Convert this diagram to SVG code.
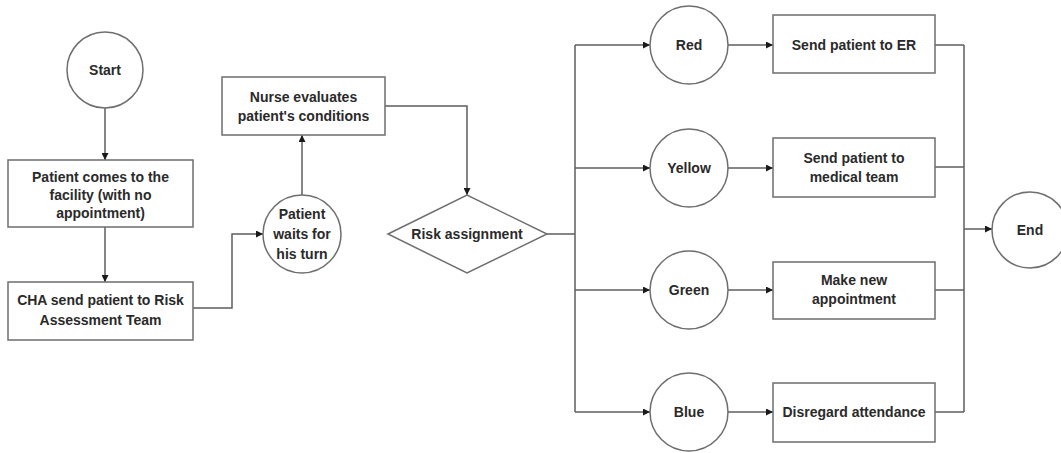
<svg xmlns="http://www.w3.org/2000/svg" width="1061" height="453" viewBox="0 0 1061 453">
  <style>
    .shape { fill: #ffffff; stroke: #6e6e6e; stroke-width: 1.5; }
    .edge { fill: none; stroke: #5e5e5e; stroke-width: 1.5; }
    .arrow { marker-end: url(#head); }
    text { font-family: "Liberation Sans", Arial, sans-serif; font-size: 14px; font-weight: bold; fill: #2a2a2a; text-anchor: middle; dominant-baseline: central; }
  </style>
  <defs>
    <marker id="head" viewBox="0 0 10 10" refX="10" refY="5" markerWidth="7" markerHeight="7" markerUnits="userSpaceOnUse" orient="auto">
      <path d="M0,0 L10,5 L0,10 Z" fill="#1a1a1a"/>
    </marker>
  </defs>
  <rect width="1061" height="453" fill="#ffffff"/>

  <!-- connectors -->
  <g id="connectors">
    <path class="edge arrow" d="M105,108 V160"/>
    <path class="edge arrow" d="M105,227 V282"/>
    <path class="edge arrow" d="M193,308 H232 V234 H263"/>
    <path class="edge arrow" d="M302,195 V135"/>
    <path class="edge arrow" d="M385,106 H467 V195"/>
    <path class="edge" d="M547,234 H575"/>
    <path class="edge" d="M575,45 V412"/>
    <path class="edge arrow" d="M575,45 H650"/>
    <path class="edge arrow" d="M575,168 H650"/>
    <path class="edge arrow" d="M575,290 H650"/>
    <path class="edge arrow" d="M575,412 H650"/>
    <path class="edge arrow" d="M728,45 H773"/>
    <path class="edge arrow" d="M728,168 H773"/>
    <path class="edge arrow" d="M728,290 H773"/>
    <path class="edge arrow" d="M728,412 H773"/>
    <path class="edge" d="M935,45 H964"/>
    <path class="edge" d="M935,167 H964"/>
    <path class="edge" d="M935,290 H964"/>
    <path class="edge" d="M935,412 H964"/>
    <path class="edge" d="M964,45 V412"/>
    <path class="edge arrow" d="M964,229 H992"/>
  </g>

  <!-- nodes -->
  <g id="start">
    <circle class="shape" cx="105" cy="70" r="38"/>
    <text x="105" y="70">Start</text>
  </g>
  <g id="arrival">
    <rect class="shape" x="8" y="160" width="185" height="67"/>
    <text x="100.5" y="177">Patient comes to the</text>
    <text x="100.5" y="195">facility (with no</text>
    <text x="100.5" y="213">appointment)</text>
  </g>
  <g id="referral">
    <rect class="shape" x="8" y="282" width="185" height="58"/>
    <text x="100.5" y="300">CHA send patient to Risk</text>
    <text x="100.5" y="320">Assessment Team</text>
  </g>
  <g id="waiting">
    <circle class="shape" cx="302" cy="234" r="39"/>
    <text x="302" y="214">Patient</text>
    <text x="302" y="234">waits for</text>
    <text x="302" y="254">his turn</text>
  </g>
  <g id="evaluation">
    <rect class="shape" x="222" y="77" width="163" height="58"/>
    <text x="303.5" y="97">Nurse evaluates</text>
    <text x="303.5" y="116">patient's conditions</text>
  </g>
  <g id="risk">
    <polygon class="shape" points="388,234 467,195 547,234 467,273"/>
    <text x="467" y="234">Risk assignment</text>
  </g>
  <g id="red">
    <circle class="shape" cx="689" cy="45" r="39"/>
    <text x="689" y="45">Red</text>
  </g>
  <g id="yellow">
    <circle class="shape" cx="689" cy="168" r="39"/>
    <text x="689" y="168">Yellow</text>
  </g>
  <g id="green">
    <circle class="shape" cx="689" cy="290" r="39"/>
    <text x="689" y="290">Green</text>
  </g>
  <g id="blue">
    <circle class="shape" cx="689" cy="412" r="39"/>
    <text x="689" y="412">Blue</text>
  </g>
  <g id="er">
    <rect class="shape" x="773" y="15" width="162" height="58"/>
    <text x="854" y="45">Send patient to ER</text>
  </g>
  <g id="medical">
    <rect class="shape" x="773" y="138" width="162" height="59"/>
    <text x="854" y="158">Send patient to</text>
    <text x="854" y="177">medical team</text>
  </g>
  <g id="appointment">
    <rect class="shape" x="773" y="262" width="162" height="57"/>
    <text x="854" y="280">Make new</text>
    <text x="854" y="299">appointment</text>
  </g>
  <g id="disregard">
    <rect class="shape" x="773" y="383" width="162" height="59"/>
    <text x="854" y="412">Disregard attendance</text>
  </g>
  <g id="end">
    <circle class="shape" cx="1030" cy="230" r="38"/>
    <text x="1030" y="230">End</text>
  </g>
</svg>
